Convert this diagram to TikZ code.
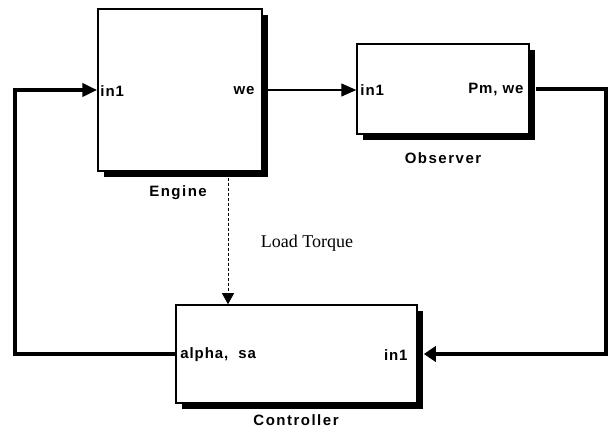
\documentclass[tikz,border=0pt]{standalone}
\usepackage{fontspec}
\setmainfont{Liberation Serif}
\setsansfont{Liberation Sans}
\usetikzlibrary{arrows.meta,shadows,calc}
\begin{document}
\begin{tikzpicture}[x=1pt,y=1pt,
  blk/.style={draw=black,line width=1.5pt,fill=white,inner sep=0pt,
    drop shadow={shadow xshift=6pt,shadow yshift=-6pt,opacity=1,fill=black}},
  lbl/.style={font=\sffamily\bfseries\fontsize{15}{17}\selectfont\addfontfeature{LetterSpace=10}},
  port/.style={font=\sffamily\bfseries\fontsize{15}{17}\selectfont\addfontfeature{LetterSpace=6},inner sep=0pt},
  thinline/.style={line width=1.3pt},
  fat/.style={line width=4.5pt},
  tip/.style={-{Triangle[length=15pt,width=13pt]}},
  ctip/.style={-{Triangle[length=12pt,width=15pt]}}
]
\useasboundingbox (0,0) rectangle (612,436);
\node[blk,minimum width=164pt,minimum height=162pt] (eng) at (180,346) {};
\node[blk,minimum width=172pt,minimum height=90pt] (obs) at (443,347) {};
\node[blk,minimum width=241pt,minimum height=98pt] (ctl) at (296.5,82) {};

\node[port,anchor=west] (ein) at ([xshift=3pt,yshift=-1pt]eng.west) {in1};
\node[port,anchor=east] (eout) at ([xshift=-8pt,yshift=-1pt]eng.east) {we};
\node[port,anchor=west] (oin) at ([xshift=4pt,yshift=-1pt]obs.west) {in1};
\node[port,anchor=east] (oout) at ([xshift=-6pt,yshift=-1pt]obs.east) {Pm, we};
\node[port,anchor=west] (cout) at ([xshift=5pt,yshift=-1pt]ctl.west) {alpha,\ \ sa};
\node[port,anchor=east] (cin) at ([xshift=-10pt,yshift=-1pt]ctl.east) {in1};

\node[lbl] (elbl) at (178,243) {Engine};
\node[lbl] (olbl) at (443,278) {Observer};
\node[lbl] (clbl) at (296,16) {Controller};
\node[font=\fontsize{18}{21}\selectfont] (lt) at (307,193) {Load Torque};

\draw[thinline,tip] (eng.east) -- (eng.east -| obs.west);

\coordinate (tr) at (606,347);
\coordinate (br) at (606,82);
\draw[fat,ctip] ([xshift=6pt]obs.east) -- (tr) -- (br) -- ([xshift=6pt]ctl.east);

\coordinate (bl) at (15,82);
\coordinate (tl) at (15,346);
\draw[fat,tip] (ctl.west) -- (bl) -- (tl) -- (eng.west);

\coordinate (dtop) at ($(eng.south)+(48,-6)$);
\draw[line width=0.8pt,dash pattern=on 3pt off 2pt,-{Triangle[length=11pt,width=12pt]}] (dtop) -- (dtop |- ctl.north);
\end{tikzpicture}
\end{document}
